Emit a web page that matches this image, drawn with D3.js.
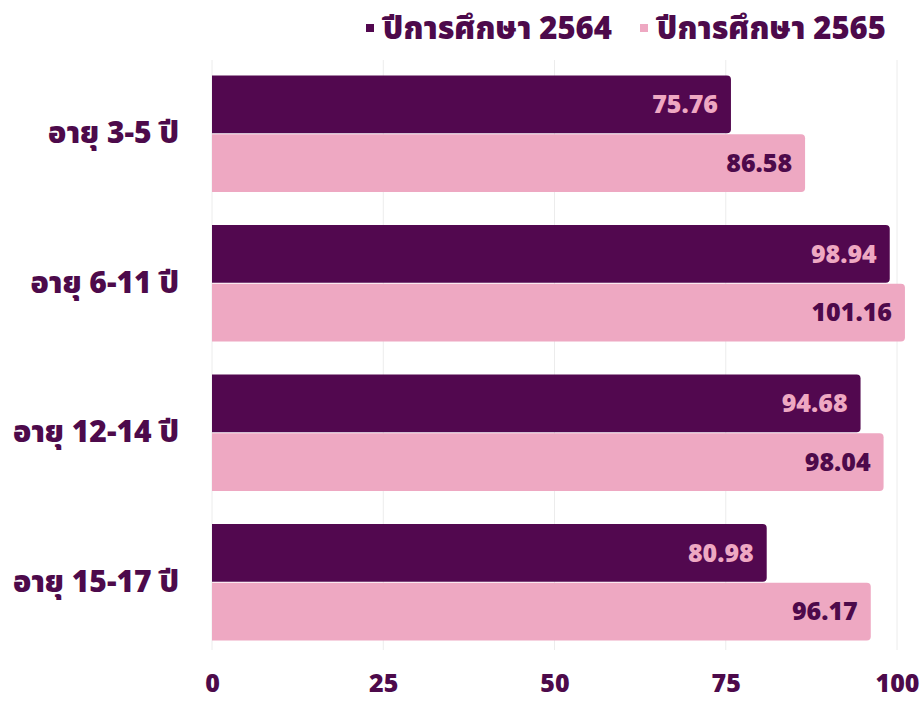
<!DOCTYPE html>
<html>
<head>
<meta charset="utf-8">
<script src="https://cdn.jsdelivr.net/npm/d3@7"></script>
<style>
  body { margin: 0; background: #fff; }
  text { font-family: "Noto Sans Thai", "Noto Sans", "DejaVu Sans Condensed", sans-serif; font-weight: 900; }
</style>
</head>
<body>
<svg id="chart" width="922" height="704"></svg>
<script>
// data
var categories = ["อายุ 3-5 ปี", "อายุ 6-11 ปี", "อายุ 12-14 ปี", "อายุ 15-17 ปี"];
var seriesNames = ["ปีการศึกษา 2564", "ปีการศึกษา 2565"];
var values2564 = [75.76, 98.94, 94.68, 80.98];
var values2565 = [86.58, 101.16, 98.04, 96.17];
var xTicks = [0, 25, 50, 75, 100];

var dark = "#52084f";
var pink = "#eea8c2";
var textDark = "#4d0a4b";

var svg = d3.select("#chart");

var x = d3.scaleLinear().domain([0, 100]).range([212, 897]);

var y = d3.scaleBand()
    .domain(categories)
    .range([59, 657])
    .paddingInner(0.213)
    .paddingOuter(0.107);

var ySub = d3.scaleBand()
    .domain(seriesNames)
    .range([0, y.bandwidth()]);

// grid lines
svg.append("g")
    .selectAll("line")
    .data(xTicks)
    .join("line")
    .attr("x1", function (d) { return x(d); })
    .attr("x2", function (d) { return x(d); })
    .attr("y1", 60)
    .attr("y2", 650)
    .attr("stroke", "#ececec")
    .attr("stroke-width", 1);

// rounded-right bar path
function barPath(x0, x1, y0, h, r) {
    return "M" + x0 + "," + y0 +
        "H" + (x1 - r) +
        "Q" + x1 + "," + y0 + " " + x1 + "," + (y0 + r) +
        "V" + (y0 + h - r) +
        "Q" + x1 + "," + (y0 + h) + " " + (x1 - r) + "," + (y0 + h) +
        "H" + x0 + "Z";
}

var rows = [];
categories.forEach(function (c, i) {
    rows.push({ cat: c, series: seriesNames[0], value: values2564[i], fill: dark, label: pink });
    rows.push({ cat: c, series: seriesNames[1], value: values2565[i], fill: pink, label: textDark });
});

var bars = svg.append("g");

bars.selectAll("path")
    .data(rows)
    .join("path")
    .attr("d", function (d) {
        return barPath(x(0), x(d.value), y(d.cat) + ySub(d.series) + 0.5, ySub.bandwidth() - 1, 4);
    })
    .attr("fill", function (d) { return d.fill; });

bars.selectAll("text")
    .data(rows)
    .join("text")
    .attr("x", function (d) { return x(d.value) - 13; })
    .attr("y", function (d) { return y(d.cat) + ySub(d.series) + ySub.bandwidth() / 2; })
    .attr("dy", "0.35em")
    .attr("text-anchor", "end")
    .attr("font-size", 25)
    .attr("fill", function (d) { return d.label; })
    .text(function (d) { return d.value.toFixed(2); });

// category labels
var yAxis = svg.append("g")
    .attr("transform", "translate(179,0)")
    .call(d3.axisLeft(y).tickSize(0).tickPadding(0));
yAxis.select(".domain").remove();
yAxis.selectAll("text")
    .attr("font-size", 30)
    .attr("fill", textDark)
    .style("font-family", null);

// x axis
var xAxis = svg.append("g")
    .attr("transform", "translate(0,676)")
    .call(d3.axisBottom(x).tickValues(xTicks).tickSize(0).tickPadding(0));
xAxis.select(".domain").remove();
xAxis.selectAll("text")
    .attr("font-size", 25)
    .attr("dy", "0.65em")
    .attr("fill", textDark);

// legend
var legend = svg.append("g");
var legendX = [366, 640];
seriesNames.forEach(function (s, i) {
    legend.append("rect")
        .attr("x", legendX[i])
        .attr("y", 24)
        .attr("width", 8)
        .attr("height", 8)
        .attr("fill", i === 0 ? dark : pink);
    legend.append("text")
        .attr("x", legendX[i] + 17)
        .attr("y", 28)
        .attr("dy", "0.35em")
        .attr("font-size", 31)
        .attr("fill", textDark)
        .text(s);
});
</script>
</body>
</html>
